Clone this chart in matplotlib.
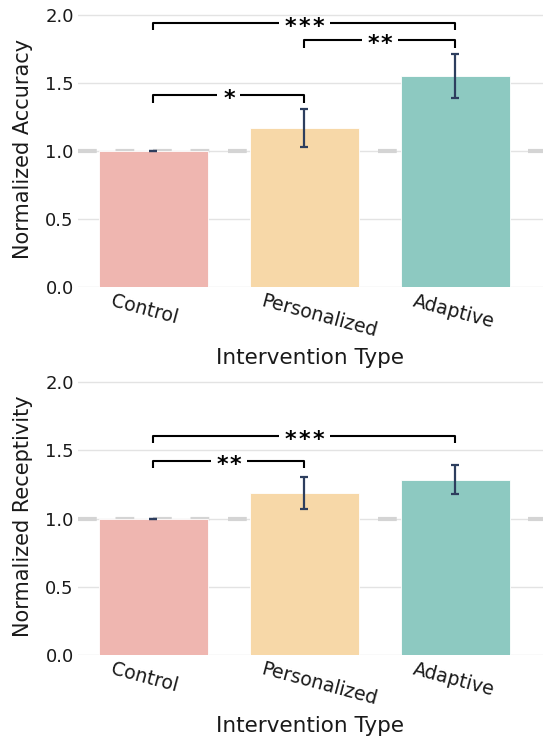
import matplotlib
matplotlib.use('Agg')
import matplotlib.pyplot as plt
from matplotlib.transforms import ScaledTranslation

# ---- data ----
categories = ['Control', 'Personalized', 'Adaptive']
accuracy = [1.0, 1.167, 1.551]
accuracy_err = [0.0, 0.14, 0.162]
receptivity = [1.0, 1.19, 1.287]
receptivity_err = [0.0, 0.119, 0.107]
accuracy_sig_pairs = [(0, 2), (1, 2), (0, 1)]
accuracy_sig_levels = [1.943, 1.816, 1.41]
accuracy_sig_labels = ['***', '**', '*']
receptivity_sig_pairs = [(0, 2), (0, 1)]
receptivity_sig_levels = [1.609, 1.426]
receptivity_sig_labels = ['***', '**']
y_ticks = [0.0, 0.5, 1.0, 1.5, 2.0]
y_labels = ['Normalized Accuracy', 'Normalized Receptivity']
x_label = 'Intervention Type'

bar_colors = ['#efb6b0', '#f7d8a8', '#8dc9c1']
err_color = '#2d3e5e'
text_color = '#1a1a1a'

W, H = 543, 742
DPI = 100
fig = plt.figure(figsize=(W / DPI, H / DPI), dpi=DPI)
fig.patch.set_facecolor('white')

YMAX = 2.03
XLIM = (-0.5, 2.58)
STAR_STEP = 13.7  # px between star centres
STAR_W = 11.0     # px glyph width


def px_axes(left, top, bottom, right=W):
    return fig.add_axes([left / W, 1 - bottom / H, (right - left) / W, (bottom - top) / H])


def make_panel(ax, values, errs, pairs, levels, labels, ylabel):
    ax.set_xlim(*XLIM)
    ax.set_ylim(0, YMAX)
    for s in ax.spines.values():
        s.set_visible(False)
    ax.set_yticks(y_ticks)
    ax.set_yticklabels([f'{t:.1f}' for t in y_ticks], fontsize=13, color=text_color)
    ax.tick_params(axis='y', length=0, pad=3)
    ax.tick_params(axis='x', length=0, labelbottom=False)
    ax.set_xticks(range(len(categories)))
    ax.grid(axis='y', color='#e3e3e3', linewidth=1.0, zorder=0)
    ax.set_axisbelow(True)
    # reference line at 1.0
    ax.axhline(1.0, color='#d4d4d4', linewidth=3.0, linestyle=(0, (4.5, 4.5)), zorder=1)
    x = list(range(len(categories)))
    ax.bar(x, values, width=0.72, color=bar_colors, edgecolor='white', linewidth=0.6, zorder=2)
    ax.errorbar(x, values, yerr=errs, fmt='none', ecolor=err_color, elinewidth=1.6,
                capsize=2.9, capthick=1.6, zorder=3)
    # category labels
    for i, c in enumerate(categories):
        off = ScaledTranslation(-40 / DPI, -5 / DPI, fig.dpi_scale_trans)
        ax.text(i, 0, c, transform=ax.get_xaxis_transform() + off, rotation=-15,
                rotation_mode='anchor', ha='left', va='top', fontsize=13.6, color=text_color)
    ax.set_ylabel(ylabel, fontsize=15, color=text_color, labelpad=9)
    ax.set_xlabel(x_label, fontsize=15.5, color=text_color, labelpad=44)

    # significance brackets
    bb = ax.get_position()
    ppx = bb.width * W / (XLIM[1] - XLIM[0])
    ppy = bb.height * H / YMAX
    drop = 7.5 / ppy
    for (a, b), y, lab in zip(pairs, levels, labels):
        xm = (a + b) / 2
        n = len(lab)
        for k, ch in enumerate(lab):
            dx = (k - (n - 1) / 2) * STAR_STEP
            tr = ax.transData + ScaledTranslation(dx / DPI, -10 / DPI, fig.dpi_scale_trans)
            ax.text(xm, y, ch, ha='center', va='baseline', fontsize=16,
                    fontweight='bold', color='black', zorder=5, transform=tr)
        tw = (n - 1) * STAR_STEP + STAR_W
        half = (tw / 2 + 6) / ppx
        kw = dict(color='black', linewidth=1.5, solid_capstyle='butt', zorder=4)
        ax.plot([a, a, xm - half], [y - drop, y, y], **kw)
        ax.plot([xm + half, b, b], [y, y, y - drop], **kw)


ax1 = px_axes(78, 15 - 0.03 * 136, 287)
make_panel(ax1, accuracy, accuracy_err, accuracy_sig_pairs, accuracy_sig_levels,
           accuracy_sig_labels, y_labels[0])
ax2 = px_axes(78, 382.3 - 0.03 * 136.3, 655)
make_panel(ax2, receptivity, receptivity_err, receptivity_sig_pairs, receptivity_sig_levels,
           receptivity_sig_labels, y_labels[1])

fig.savefig('out.png', dpi=DPI, facecolor='white')
